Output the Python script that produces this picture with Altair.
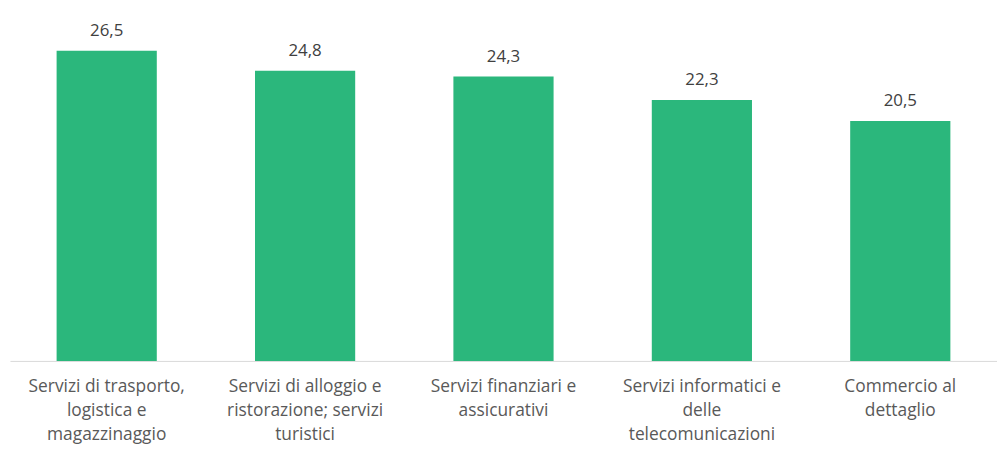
import altair as alt
import pandas as pd

categories = [
    "Servizi di trasporto,|logistica e|magazzinaggio",
    "Servizi di alloggio e|ristorazione; servizi|turistici",
    "Servizi finanziari e|assicurativi",
    "Servizi informatici e|delle|telecomunicazioni",
    "Commercio al|dettaglio",
]
values = [26.5, 24.8, 24.3, 22.3, 20.5]
value_labels = ["26,5", "24,8", "24,3", "22,3", "20,5"]

df = pd.DataFrame({"cat": categories, "val": values, "lab": value_labels})

x = alt.X(
    "cat:N",
    sort=categories,
    title=None,
    scale=alt.Scale(paddingInner=0.495, paddingOuter=0.235),
    axis=alt.Axis(
        labelAngle=0,
        labelExpr="split(datum.label, '|')",
        labelFont="Open Sans",
        labelFontSize=17.5,
        labelColor="#595959",
        labelLineHeight=24,
        labelPadding=17,
        ticks=False,
        domainColor="#D9D9D9",
        domainWidth=1,
        labelLimit=300,
    ),
)
y = alt.Y("val:Q", scale=alt.Scale(domain=[0, 30]), axis=None)

bars = alt.Chart(df).mark_bar(color="#2BB77C").encode(x=x, y=y)
text = alt.Chart(df).mark_text(
    baseline="bottom", dy=-11, font="Open Sans", fontSize=17, color="#404040"
).encode(x=x, y=y, text="lab:N")

chart = (bars + text).properties(
    width=995,
    height=354,
    autosize=alt.AutoSizeParams(type="none"),
    padding={"left": 2, "top": 0, "right": 0, "bottom": 90},
).configure_view(stroke=None)

chart.save("out.html", embed_options={"renderer": "svg", "actions": False})
